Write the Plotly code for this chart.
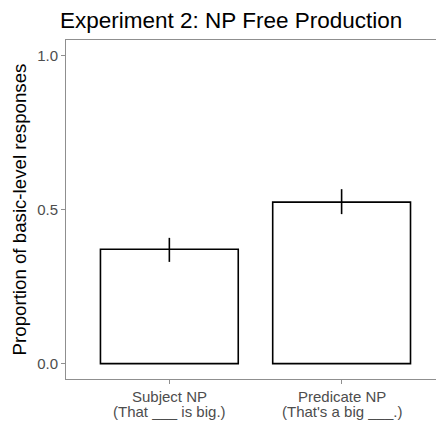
import plotly.graph_objects as go

categories = ["Subject NP", "Predicate NP"]
sub_labels = ["(That ___ is big.)", "(That's a big ___.)"]
proportions = [0.371, 0.524]
ci_upper = [0.408, 0.566]
ci_lower = [0.330, 0.485]
y_ticks = [0.0, 0.5, 1.0]
y_ticklabels = ["0.0", "0.5", "1.0"]

err_plus = [u - m for u, m in zip(ci_upper, proportions)]
err_minus = [m - l for l, m in zip(ci_lower, proportions)]

fig = go.Figure()
fig.add_trace(go.Bar(
    x=categories, y=proportions, width=0.8,
    marker=dict(color="white", line=dict(color="black", width=1.6)),
    error_y=dict(type="data", symmetric=False, array=err_plus, arrayminus=err_minus,
                 color="black", thickness=1.6, width=0),
    showlegend=False, hoverinfo="skip",
))

label_col = "#4d4d4d"
for cat, sub in zip(categories, sub_labels):
    fig.add_annotation(x=cat, xref="x", y=0, yref="paper", yanchor="middle",
                       yshift=-17.5, text=cat, showarrow=False,
                       font=dict(size=15, color=label_col))
    fig.add_annotation(x=cat, xref="x", y=0, yref="paper", yanchor="middle",
                       yshift=-32.5, text=sub, showarrow=False,
                       font=dict(size=15, color=label_col))

axis_col = "#8f8f8f"
fig.update_layout(
    width=436, height=423,
    margin=dict(l=66, r=0, t=40, b=44),
    paper_bgcolor="white", plot_bgcolor="white",
    font=dict(family="Liberation Sans, Arial, sans-serif"),
    title=dict(text="Experiment 2: NP Free Production", x=60/436, xanchor="left",
               xref="container", y=1-20/423, yanchor="middle", yref="container",
               pad=dict(l=0, r=0, t=0, b=0),
               font=dict(size=22.5, color="black")),
    xaxis=dict(range=[-0.6, 1.548], showgrid=False, zeroline=False, automargin=False,
               showline=True, linecolor=axis_col, linewidth=1, mirror=True,
               ticks="outside", ticklen=4, tickcolor=axis_col, tickwidth=1,
               showticklabels=False),
    yaxis=dict(range=[-0.05, 1.05], showgrid=False, zeroline=False, automargin=False,
               showline=True, linecolor=axis_col, linewidth=1, mirror=False,
               tickvals=y_ticks, ticktext=y_ticklabels,
               ticks="outside", ticklen=4, tickcolor=axis_col, tickwidth=1,
               tickfont=dict(size=15, color=label_col),
               title=dict(text="Proportion of basic-level responses",
                          font=dict(size=18.7, color="black"), standoff=5)),
)

fig.write_html("out.html", config={"displayModeBar": False},
               post_script="document.body.style.margin='0';")
